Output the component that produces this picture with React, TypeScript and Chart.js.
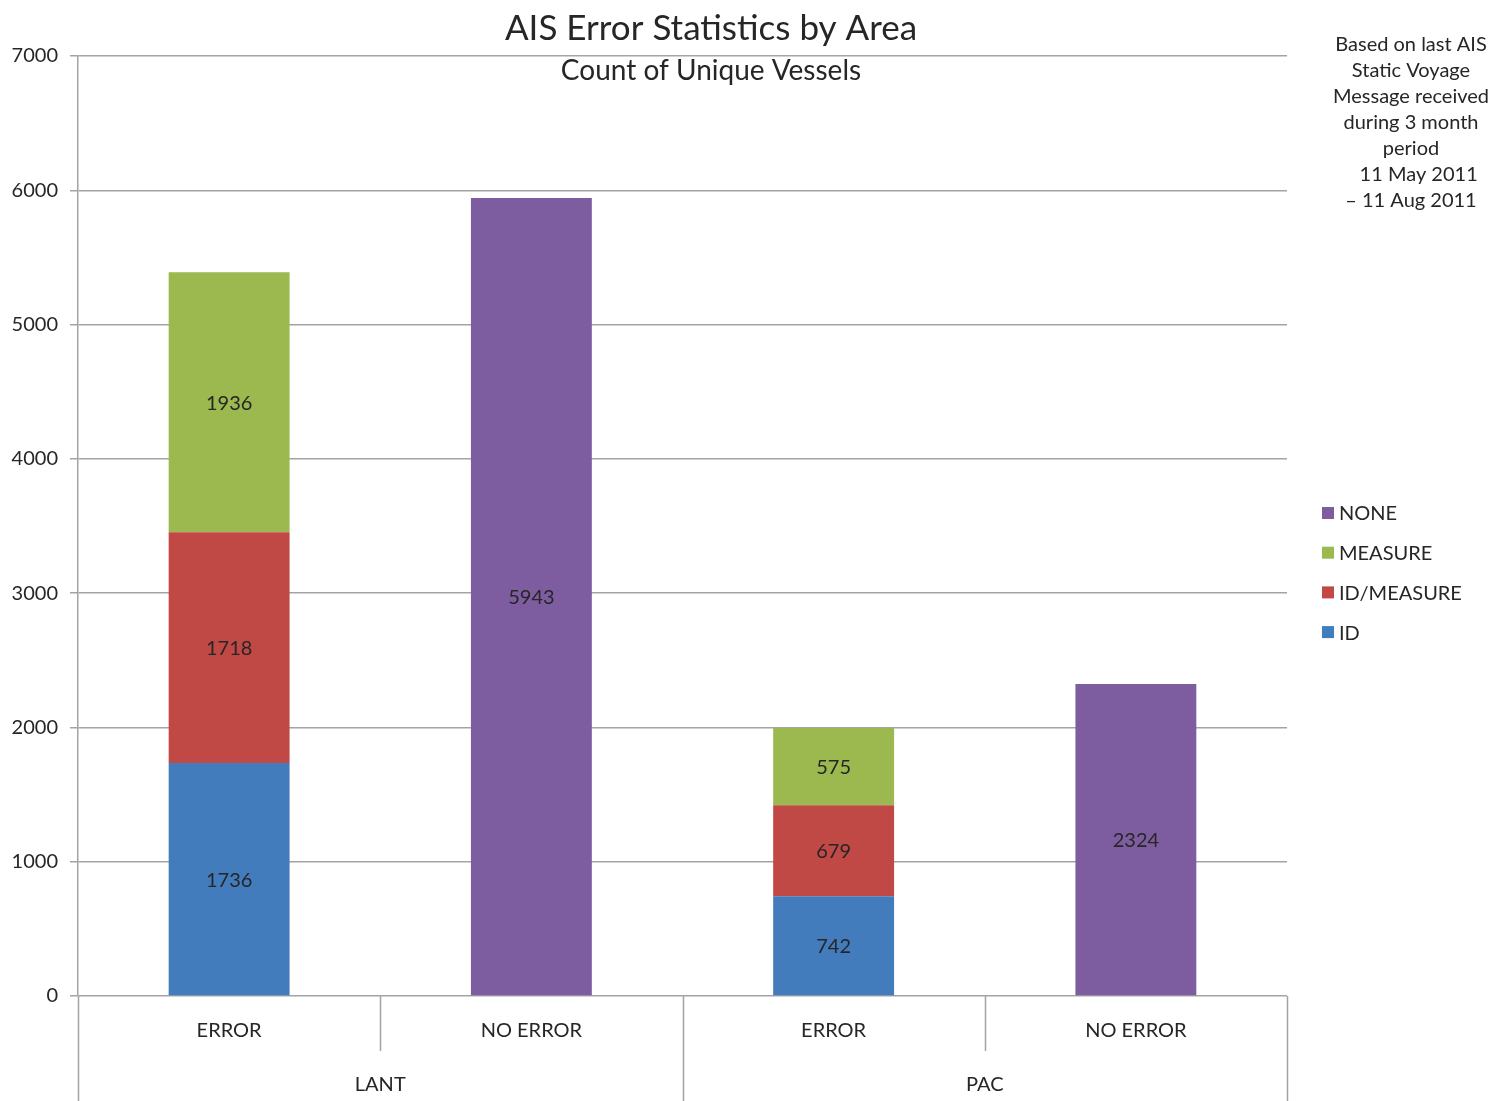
import React, { useEffect, useRef } from "react";
import { Chart, registerables } from "chart.js";

Chart.register(...registerables);

const subCategories = ["ERROR", "NO ERROR", "ERROR", "NO ERROR"];
const groups = ["LANT", "PAC"];
const idValues = [1736, null, 742, null];
const idMeasureValues = [1718, null, 679, null];
const measureValues = [1936, null, 575, null];
const noneValues = [null, 5943, null, 2324];
const yTicks = [0, 1000, 2000, 3000, 4000, 5000, 6000, 7000];
const titleText = "AIS Error Statistics by Area";
const subtitleText = "Count of Unique Vessels";
const noteLines = [
  "Based on last AIS",
  "Static Voyage",
  "Message received",
  "during 3 month",
  "period",
  "   11 May 2011",
  "– 11 Aug 2011",
];

const FONT = 'Lato, "Open Sans", sans-serif';
const TEXT = "#262626";
const GRID = "#A3A3A3";

const overlayPlugin = {
  id: "overlay",
  afterDatasetsDraw(chart: any) {
    const ctx = chart.ctx;
    const area = chart.chartArea;
    const xs = chart.scales.x;
    ctx.save();
    // data labels
    ctx.font = `20px ${FONT}`;
    ctx.fillStyle = TEXT;
    ctx.textAlign = "center";
    ctx.textBaseline = "middle";
    chart.data.datasets.forEach((ds: any, di: number) => {
      const meta = chart.getDatasetMeta(di);
      meta.data.forEach((bar: any, i: number) => {
        const v = ds.data[i];
        if (v == null) return;
        const cy = (bar.y + bar.base) / 2;
        ctx.fillText(String(v), bar.x, cy + 1);
      });
    });
    // x axis multi-level
    ctx.strokeStyle = GRID;
    ctx.lineWidth = 1.5;
    const n = subCategories.length;
    const step = xs.getPixelForValue(1) - xs.getPixelForValue(0);
    const bottom = chart.height;
    for (let i = 0; i <= n; i++) {
      const x = Math.round(xs.getPixelForValue(0) - step / 2 + i * step) + 0.5;
      const full = i % 2 === 0;
      ctx.beginPath();
      ctx.moveTo(x, area.bottom);
      ctx.lineTo(x, full ? bottom : area.bottom + 55);
      ctx.stroke();
    }
    ctx.font = `20px ${FONT}`;
    ctx.fillStyle = TEXT;
    subCategories.forEach((lab, i) => {
      ctx.fillText(lab, xs.getPixelForValue(i), area.bottom + 35);
    });
    groups.forEach((g, gi) => {
      const x = (xs.getPixelForValue(gi * 2) + xs.getPixelForValue(gi * 2 + 1)) / 2;
      ctx.fillText(g, x, area.bottom + 89);
    });
    // titles
    ctx.font = `35px ${FONT}`;
    ctx.fillText(titleText, 711, 29);
    ctx.font = `28px ${FONT}`;
    ctx.fillText(subtitleText, 711, 71);
    // note
    ctx.font = `20px ${FONT}`;
    noteLines.forEach((l, i) => {
      ctx.fillText(l, 1411, 45 + i * 26);
    });
    // legend
    const order = [...chart.data.datasets].reverse();
    ctx.textAlign = "left";
    order.forEach((ds: any, i: number) => {
      const y = 513 + i * 39.7;
      ctx.fillStyle = ds.backgroundColor;
      ctx.fillRect(1322, y - 6, 12, 12);
      ctx.fillStyle = TEXT;
      ctx.fillText(ds.label, 1339, y + 1);
    });
    ctx.restore();
  },
};

export default function App() {
  const ref = useRef<HTMLCanvasElement | null>(null);
  useEffect(() => {
    const chart = new Chart(ref.current as HTMLCanvasElement, {
      type: "bar",
      data: {
        labels: subCategories,
        datasets: [
          { label: "ID", data: idValues, backgroundColor: "#427CBD" },
          { label: "ID/MEASURE", data: idMeasureValues, backgroundColor: "#C04845" },
          { label: "MEASURE", data: measureValues, backgroundColor: "#9BB94E" },
          { label: "NONE", data: noneValues, backgroundColor: "#7D5DA0" },
        ] as any,
      },
      options: {
        animation: false,
        responsive: false,
        devicePixelRatio: 1,
        layout: { padding: { top: 56, right: 206, bottom: 105, left: 0 } },
        plugins: { legend: { display: false }, tooltip: { enabled: false }, title: { display: false } },
        datasets: { bar: { categoryPercentage: 1, barPercentage: 0.4, skipNull: false } as any },
        scales: {
          x: { stacked: true, display: false },
          y: {
            stacked: true,
            min: 0,
            max: 7000,
            afterFit: (s: any) => { s.width = 78; },
            afterBuildTicks: (s: any) => { s.ticks = yTicks.map((v) => ({ value: v })); },
            ticks: {
              font: { family: FONT, size: 20 },
              color: TEXT,
              padding: 12,
              callback: (v: any) => String(v),
            },
            grid: { color: GRID, lineWidth: 1.5, tickLength: 8 },
            border: { color: GRID, width: 1.5 },
          },
        },
      },
      plugins: [overlayPlugin],
    });
    return () => chart.destroy();
  }, []);
  return (
    <div style={{ position: "absolute", left: 0, top: 0, width: 1493, height: 1101, background: "#fff" }}>
      <canvas ref={ref} width={1493} height={1101} style={{ width: 1493, height: 1101 }} />
    </div>
  );
}
